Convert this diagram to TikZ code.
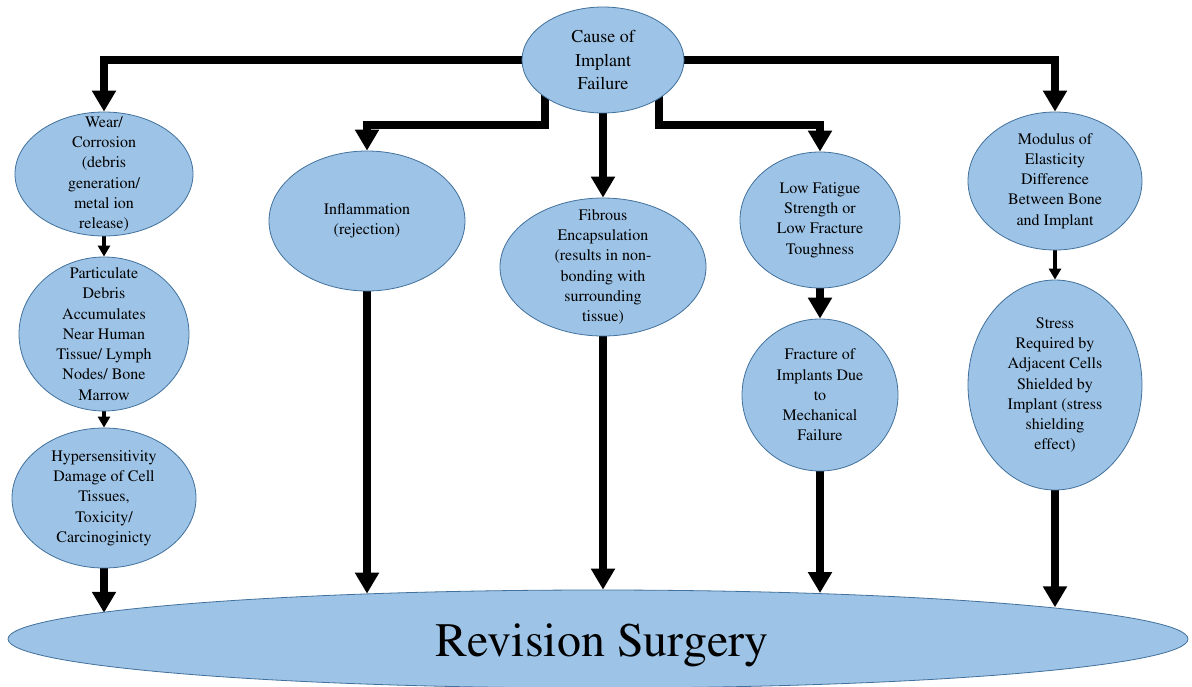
\documentclass[tikz,border=0pt]{standalone}
\usepackage[T1]{fontenc}
\usepackage{times}
\usetikzlibrary{shapes.geometric,arrows.meta,backgrounds}
\definecolor{bubblefill}{HTML}{9DC3E6}
\definecolor{bubbleline}{HTML}{41719C}
\tikzset{
	bubble/.style={ellipse,draw=bubbleline,fill=bubblefill,line width=0.8pt,inner sep=0pt},
	bubbletext/.style={align=center,font=\fontsize{16}{20.3}\selectfont},
	bigarrow/.style={line width=7.5pt,-{Triangle[width=23pt,length=21pt]}},
	smallarrow/.style={line width=4pt,-{Triangle[width=12pt,length=11pt]}}
}
\begin{document}
\begin{tikzpicture}[x=1pt,y=-1pt]
	\useasboundingbox (0,0) rectangle (1192,686);
	\node[bubble,minimum width=162pt,minimum height=106pt] (cause) at (603,60) {};
	\node[align=center,font=\fontsize{18}{23.5}\selectfont] (causetxt) at (cause) {Cause of\\Implant\\Failure};
	\foreach \n/\x/\y/\w/\h/\texn in {
		wear/104/174/178/124/{Wear/\\Corrosion\\(debris\\generation/\\metal ion\\release)},
		partic/104/334/170/154/{Particulate\\Debris\\Accumulates\\Near Human\\Tissue/ Lymph\\Nodes/ Bone\\Marrow},
		hyper/104/498/184/140/{Hypersensitivity\\Damage of Cell\\Tissues,\\Toxicity/\\Carcinoginicty},
		infl/367/221/196/140/{Inflammation\\(rejection)},
		fibrous/603/267/206/138/{Fibrous\\Encapsulation\\(results in non-\\bonding with\\surrounding\\tissue)},
		fatigue/820/220/160/136/{Low Fatigue\\Strength or\\Low Fracture\\Toughness},
		fracture/820/395/156/152/{Fracture of\\Implants Due\\to\\Mechanical\\Failure},
		modulus/1055/181/174/138/{Modulus of\\Elasticity\\Difference\\Between Bone\\and Implant},
		stress/1055/385/174/210/{Stress\\Required by\\Adjacent Cells\\Shielded by\\Implant (stress\\shielding\\effect)}}
	{
		\node[bubble,minimum width=\w pt,minimum height=\h pt] (\n) at (\x,\y) {};
		\node[bubbletext] (\n-txt) at (\n) {\texn};
	}
	\node[bubble,minimum width=1180pt,minimum height=98pt] (revision) at (598,639) {};
	\node[font=\fontsize{48}{56}\selectfont] (revisiontxt) at ([xshift=4pt,yshift=-6pt]revision.center) {Revision Surgery};
	\begin{scope}[on background layer]
		\draw[bigarrow] (cause.center) -| (wear.north);
		\draw[bigarrow] (cause.center) -| (modulus.north);
		\draw[bigarrow] ([xshift=-58pt]cause.center) -- ++(0,65) -| (infl.north);
		\draw[bigarrow] (cause.center) -- (fibrous.north);
		\draw[bigarrow] ([xshift=56pt]cause.center) -- ++(0,65) -| (fatigue.north);
		\draw[smallarrow] (wear) -- (partic.north);
		\draw[smallarrow] (partic) -- (hyper.north);
		\draw[smallarrow] (modulus) -- (stress.north);
		\draw[bigarrow] (fatigue) -- (fracture.north);
		\draw[bigarrow] (hyper) -- (hyper |- revision.177);
		\draw[bigarrow] (infl) -- (infl |- revision.169);
		\draw[bigarrow] (fibrous) -- (fibrous |- revision.north);
		\draw[bigarrow] (fracture) -- (fracture |- revision.12);
		\draw[bigarrow] (stress) -- (stress |- revision.4);
	\end{scope}
\end{tikzpicture}
\end{document}
